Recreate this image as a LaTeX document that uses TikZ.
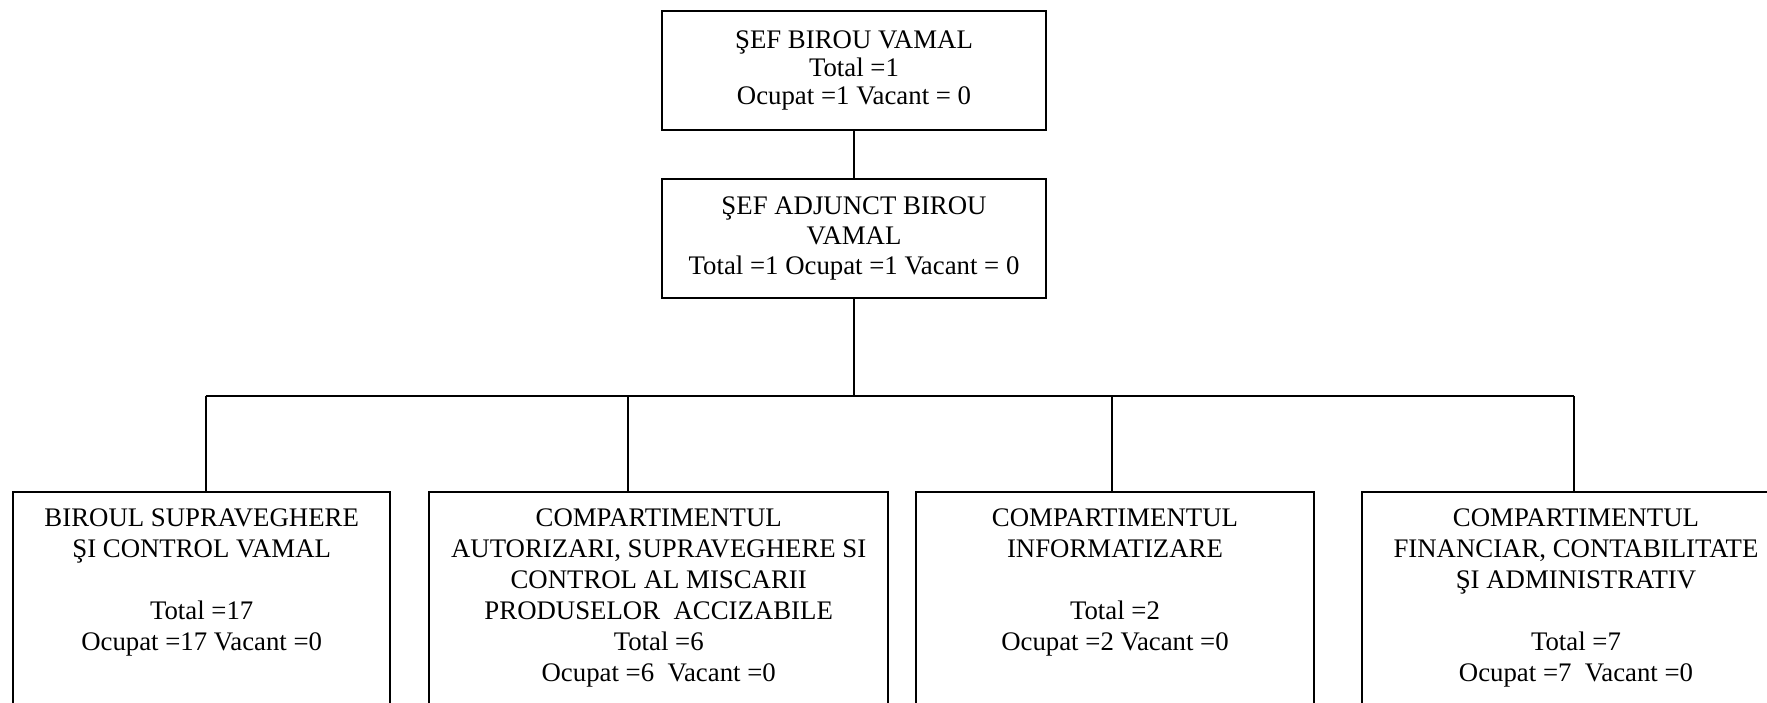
\documentclass[tikz,border=0pt]{standalone}
\usepackage{fontspec}
\setmainfont{Liberation Serif}
\usetikzlibrary{positioning}

\tikzset{
  box/.style={draw, line width=1pt, inner sep=0pt},
  topBox/.style={box, minimum width=192pt, minimum height=59.5pt, align=center,
    font=\fontsize{13.4}{#1}\selectfont},
  topBox/.default=15,
  deptBox/.style={box, anchor=north, minimum height=150pt},
  deptText/.style={inner sep=0pt, align=center, font=\fontsize{13.4}{15.5}\selectfont},
  link/.style={line width=1pt}
}

\begin{document}
\begin{tikzpicture}[x=0.5pt, y=-0.5pt]
  \useasboundingbox (0,0) rectangle (1767,702);
  \clip (0,0) rectangle (1767,702);

  % conducere
  \node[topBox=13.9] (sefBirou) at (854,70.5)
    {ŞEF BIROU VAMAL\\Total =1\\Ocupat =1 Vacant = 0};
  \node[topBox] (sefAdjunct) at (854,238.5)
    {ŞEF ADJUNCT BIROU\\VAMAL\\Total =1 Ocupat =1 Vacant = 0};

  % compartimente
  \node[deptBox, minimum width=188.35pt] (birouSupraveghere) at (201.7,491) {};
  \node[deptBox, minimum width=229.65pt] (compAutorizari) at (658.7,491) {};
  \node[deptBox, minimum width=199pt] (compInformatizare) at (1115,491) {};
  \node[deptBox, minimum width=214pt] (compFinanciar) at (1576,491) {};

  \node[deptText, below=8.5pt of birouSupraveghere.north] (birouSupraveghereText)
    {BIROUL SUPRAVEGHERE\\ŞI CONTROL VAMAL\\[15.5pt]Total =17\\Ocupat =17 Vacant =0};
  \node[deptText, below=8.5pt of compAutorizari.north] (compAutorizariText)
    {COMPARTIMENTUL\\AUTORIZARI, SUPRAVEGHERE SI\\CONTROL AL MISCARII\\PRODUSELOR~ ACCIZABILE\\Total =6\\Ocupat =6~ Vacant =0};
  \node[deptText, below=8.5pt of compInformatizare.north] (compInformatizareText)
    {COMPARTIMENTUL\\INFORMATIZARE\\[15.5pt]Total =2\\Ocupat =2 Vacant =0};
  \node[deptText, below=8.5pt of compFinanciar.north] (compFinanciarText)
    {COMPARTIMENTUL\\FINANCIAR, CONTABILITATE\\ŞI ADMINISTRATIV\\[15.5pt]Total =7\\Ocupat =7~ Vacant =0};

  % legaturi
  \coordinate (bus) at (854,396);
  \draw[link] (sefBirou) -- (sefAdjunct);
  \draw[link] (sefAdjunct) -- (bus);
  \foreach \name/\x in {birouSupraveghere/205.7, compAutorizari/628.3,
                        compInformatizare/1112.3, compFinanciar/1574.3}
  {
    \coordinate (drop-\name) at (\x,396);
    \draw[link] (drop-\name) -- (drop-\name |- \name.north);
  }
  \draw[link] (drop-birouSupraveghere) -- (drop-compFinanciar);

\end{tikzpicture}
\end{document}
